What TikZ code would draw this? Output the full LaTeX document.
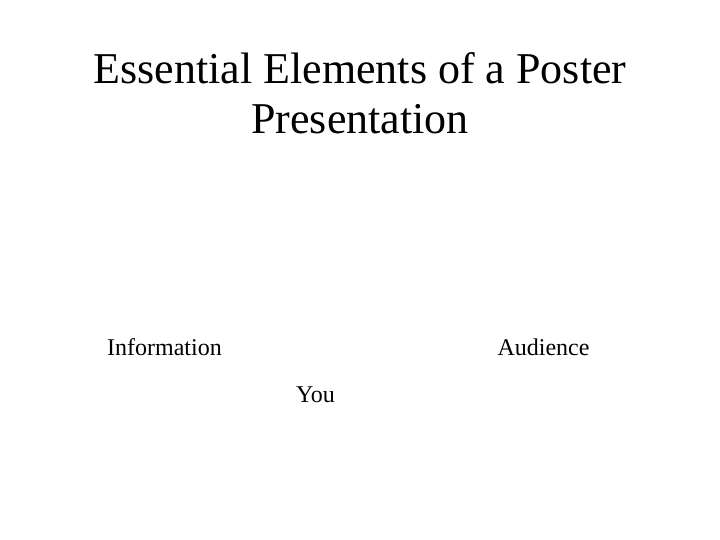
\documentclass[tikz,border=0pt]{standalone}
\usepackage{fontspec}
\setmainfont{Liberation Serif}
\begin{document}
\begin{tikzpicture}[x=1pt,y=-1pt,
  titletext/.style={font=\fontsize{44}{52}\selectfont, inner sep=0pt, anchor=base},
  labeltext/.style={font=\fontsize{24}{28}\selectfont, inner sep=0pt, anchor=base}]
\useasboundingbox[fill=white] (0,0) rectangle (720,540);
\node[titletext] (t1) at (360,84) {Essential Elements of a Poster};
\node[titletext] (t2) at (360,134) {Presentation};
\node[labeltext] (info) at (164.5,355) {Information};
\node[labeltext] (aud) at (543.5,355) {Audience};
\node[labeltext] (you) at (315.5,402) {You};
\end{tikzpicture}
\end{document}
